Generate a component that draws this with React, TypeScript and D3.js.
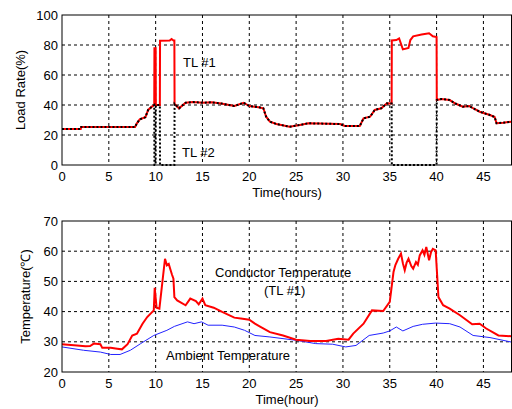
import * as d3 from "d3";

// top panel: load rate of the two lines (%)
const loadHours = [0, 2.0, 2.05, 7.8, 8.0, 8.3, 8.9, 9.2, 9.6, 9.85, 9.87, 10.0, 10.02, 10.45, 10.47, 11.5, 11.7, 11.9, 12.0, 12.02, 12.5, 13.2, 14, 15, 16, 17, 18.4, 19.4, 20, 21, 21.5, 21.8, 22.2, 22.9, 24.3, 25.4, 26.3, 29.7, 30.2, 31.8, 32.2, 32.9, 33.4, 34.1, 34.7, 35.2, 35.22, 35.7, 36.0, 36.4, 37.0, 37.2, 37.5, 38.4, 39.2, 39.6, 40.0, 40.02, 40.5, 41.4, 42.0, 42.8, 43.5, 44.0, 44.6, 45.7, 46.2, 46.4, 47.1, 48];
const tl1Load = [24, 24, 25.3, 25.3, 27.8, 30.4, 31.8, 36.7, 38.9, 40, 77.8, 77.8, 40, 40, 82.9, 83, 84, 83, 83, 40.7, 37.8, 41.5, 42, 41.5, 41.8, 41, 39.3, 41.5, 39.3, 38.5, 37.8, 32.2, 28.9, 27.3, 25.5, 26.7, 27.8, 27.3, 26, 26, 31.1, 32.2, 36.7, 37.8, 41.1, 41, 83, 83.3, 84.4, 77.1, 78, 83.3, 85.8, 87, 87.8, 85.8, 85.3, 43.3, 44, 43.3, 41, 38.9, 39.3, 37.5, 35.5, 33.3, 32, 27.8, 28.2, 28.9];
const tl2Load = [24, 24, 25.3, 25.3, 27.8, 30.4, 31.8, 36.7, 38.9, 40, 0, 0, 40, 40, 0, 0, 0, 0, 0, 40.7, 37.8, 41.5, 42, 41.5, 41.8, 41, 39.3, 41.5, 39.3, 38.5, 37.8, 32.2, 28.9, 27.3, 25.5, 26.7, 27.8, 27.3, 26, 26, 31.1, 32.2, 36.7, 37.8, 41.1, 41, 0, 0, 0, 0, 0, 0, 0, 0, 0, 0, 0, 43.3, 44, 43.3, 41, 38.9, 39.3, 37.5, 35.5, 33.3, 32, 27.8, 28.2, 28.9];

// bottom panel: conductor temperature of TL #1
const condHours = [0, 1.6, 2.5, 3.0, 3.4, 4.1, 4.3, 5.2, 5.9, 6.4, 7.0, 7.5, 8.0, 8.6, 9.1, 9.8, 9.9, 10.1, 10.4, 10.7, 11.0, 11.2, 11.4, 11.6, 11.75, 11.9, 12.0, 12.3, 13.2, 13.7, 14.3, 14.6, 15.0, 15.3, 16.2, 17.1, 18.4, 19.1, 20.0, 20.6, 21.1, 22.2, 23.6, 25.0, 26.5, 28.2, 29.5, 30.6, 31.1, 32.2, 33.1, 34.3, 35.0, 35.4, 35.6, 35.9, 36.2, 36.4, 36.6, 36.8, 37.0, 37.3, 37.5, 37.8, 38.0, 38.2, 38.5, 38.7, 38.9, 39.2, 39.4, 39.6, 39.9, 40.2, 40.7, 41.4, 42.5, 43.8, 44.6, 45.3, 46.6, 48];
const condTemp = [29.2, 28.8, 28.5, 28.6, 29.4, 29.2, 28, 28, 27.7, 27.5, 29.2, 32.1, 32.7, 36, 38.2, 40.4, 47.9, 41.3, 41, 49.3, 57.5, 55.3, 55.8, 53.7, 52.2, 50.9, 44.8, 43.7, 42.1, 44.3, 43.5, 42.4, 44.3, 42.1, 41.3, 39.9, 38, 37.7, 37.3, 36, 35.1, 33.2, 32.1, 30.7, 30.3, 30.3, 31, 30.7, 32.7, 36, 40.4, 40.2, 43.2, 53.1, 55.4, 57.5, 59.2, 56, 53.7, 56.2, 57.5, 55.1, 54.2, 56.4, 55.5, 58.6, 60.3, 58.8, 61.4, 57, 59.6, 60.8, 60.3, 44.8, 42.1, 41, 38.8, 35.8, 36, 34.4, 32.1, 31.8];

// bottom panel: ambient temperature
const ambHours = [0, 2.3, 4.1, 5.2, 6.2, 7.3, 8.4, 9.8, 11.2, 12, 13.4, 14.1, 14.9, 15.6, 17.1, 18.4, 19.5, 20.6, 22.2, 25, 27.1, 28.9, 30.3, 31.4, 32.8, 34.3, 35, 35.7, 36.4, 37.5, 38.5, 39.9, 41.4, 42.5, 43.9, 45.7, 48];
const ambTemp = [28.3, 27.2, 26.6, 25.8, 25.8, 27.2, 29.4, 32.1, 33.8, 35.1, 36.6, 36, 36.6, 35.5, 35.5, 34.9, 33.8, 32.1, 31.6, 30.5, 29.4, 29.2, 28.3, 28.8, 32.1, 32.9, 33.6, 34.9, 33.6, 35.1, 35.8, 36.2, 36, 34.9, 32.1, 31.4, 29.9];

const xTicks = [0, 5, 10, 15, 20, 25, 30, 35, 40, 45];
const loadTicks = [0, 20, 40, 60, 80, 100];
const tempTicks = [20, 30, 40, 50, 60, 70];

const W = 512;
const H = 409;
const left = 62;
const right = 511.5;
const font = "Arial, 'Liberation Sans', sans-serif";
const fs = 13;

type Pt = [number, number];
const zip = (xs: number[], ys: number[]): Pt[] => xs.map((x, i) => [x, ys[i]]);

function Panel(props: {
  top: number;
  bottom: number;
  yDomain: [number, number];
  yTicks: number[];
  yLabel: string;
  xLabel: string;
  labelX: number;
  children: (x: d3.ScaleLinear<number, number>, y: d3.ScaleLinear<number, number>) => any;
}) {
  const { top, bottom, yDomain, yTicks, yLabel, xLabel, labelX } = props;
  const x = d3.scaleLinear().domain([0, 48]).range([left, right]);
  const y = d3.scaleLinear().domain(yDomain).range([bottom, top]);
  return (
    <g>
      {xTicks.slice(1).map((t) => (
        <line key={"gx" + t} x1={x(t)} x2={x(t)} y1={top} y2={bottom} stroke="#000" strokeDasharray="3,3" />
      ))}
      {yTicks.slice(1, -1).map((t) => (
        <line key={"gy" + t} x1={left} x2={right} y1={y(t)} y2={y(t)} stroke="#000" strokeDasharray="3,3" />
      ))}
      {props.children(x, y)}
      <rect x={left} y={top} width={right - left} height={bottom - top} fill="none" stroke="#000" />
      {xTicks.map((t) => (
        <text key={"tx" + t} x={x(t)} y={bottom + 16} textAnchor="middle" fontSize={fs} fontFamily={font}>
          {t}
        </text>
      ))}
      {yTicks.map((t) => (
        <text key={"ty" + t} x={left - 4} y={y(t) + 4.5} textAnchor="end" fontSize={fs} fontFamily={font}>
          {t}
        </text>
      ))}
      <text x={287} y={bottom + 32} textAnchor="middle" fontSize={fs} fontFamily={font}>
        {xLabel}
      </text>
      <text
        transform={`translate(${labelX},${(top + bottom) / 2}) rotate(-90)`}
        textAnchor="middle"
        fontSize={fs}
        fontFamily={font}
      >
        {yLabel}
      </text>
    </g>
  );
}

export default function App() {
  const line = (x: d3.ScaleLinear<number, number>, y: d3.ScaleLinear<number, number>) =>
    d3
      .line<Pt>()
      .x((d) => x(d[0]))
      .y((d) => y(d[1]));

  return (
    <svg width={W} height={H} style={{ position: "absolute", left: 0, top: 0, background: "#fff" }}>
      <rect width={W} height={H} fill="#fff" />
      <Panel top={15} bottom={165} yDomain={[0, 100]} yTicks={loadTicks} yLabel="Load Rate(%)" xLabel="Time(hours)" labelX={25}>
        {(x, y) => (
          <g>
            <path d={line(x, y)(zip(loadHours, tl1Load)) || ""} fill="none" stroke="#ff0000" strokeWidth={2} />
            <path d={line(x, y)(zip(loadHours, tl2Load)) || ""} fill="none" stroke="#000" strokeWidth={2} strokeDasharray="2,2" />
            <text x={183} y={67} fontSize={fs} fontFamily={font}>TL #1</text>
            <text x={182} y={157} fontSize={fs} fontFamily={font}>TL #2</text>
          </g>
        )}
      </Panel>
      <Panel top={221} bottom={372} yDomain={[20, 70]} yTicks={tempTicks} yLabel="Temperature(℃)" xLabel="Time(hour)" labelX={30}>
        {(x, y) => (
          <g>
            <path d={line(x, y)(zip(ambHours, ambTemp)) || ""} fill="none" stroke="#2222ff" strokeWidth={1} />
            <path d={line(x, y)(zip(condHours, condTemp)) || ""} fill="none" stroke="#ff0000" strokeWidth={2} />
            <text x={215} y={277} fontSize={fs} fontFamily={font}>Conductor Temperature</text>
            <text x={264} y={295} fontSize={fs} fontFamily={font}>(TL #1)</text>
            <text x={166} y={360} fontSize={fs} fontFamily={font}>Ambient Temperature</text>
          </g>
        )}
      </Panel>
    </svg>
  );
}
